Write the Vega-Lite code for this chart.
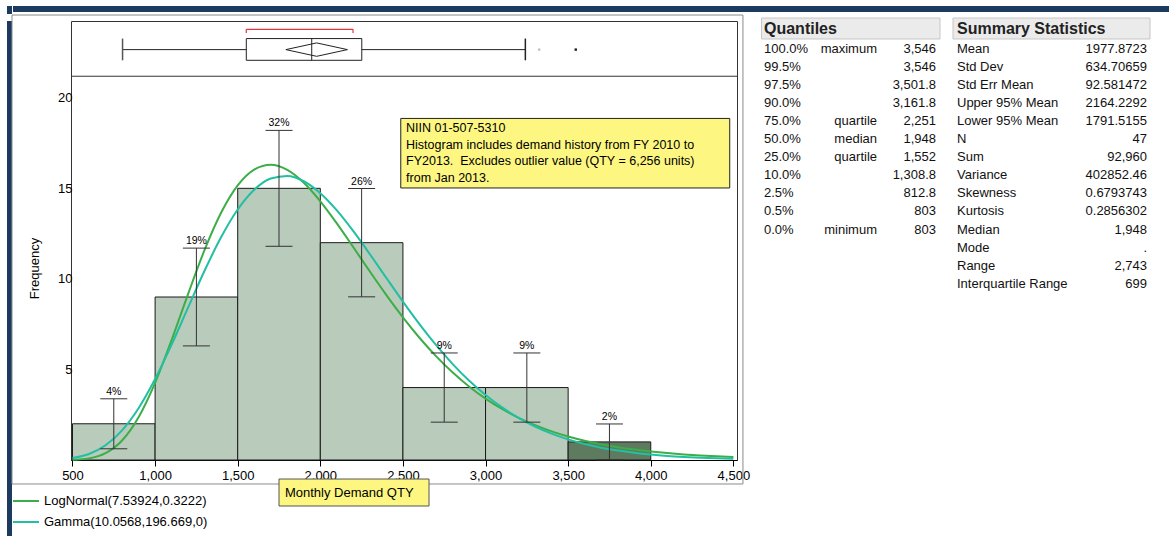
{
  "$schema": "https://vega.github.io/schema/vega-lite/v6.json",
  "background": "white",
  "padding": {"left": 6, "top": 6, "right": 0, "bottom": 0},
  "config": {
    "view": {"stroke": null},
    "font": "Liberation Sans",
    "axis": {"labelFont": "Liberation Sans", "titleFont": "Liberation Sans"},
    "legend": {"labelFont": "Liberation Sans"},
    "text": {"font": "Liberation Sans"}
  },
  "datasets": {
    "bins": [
      {"lo": 500, "hi": 1000, "mid": 750, "count": 2, "elo": 0.62, "ehi": 3.38, "pct": "4%", "rowState": "unselected"},
      {"lo": 1000, "hi": 1500, "mid": 1250, "count": 9, "elo": 6.3, "ehi": 11.7, "pct": "19%", "rowState": "unselected"},
      {"lo": 1500, "hi": 2000, "mid": 1750, "count": 15, "elo": 11.8, "ehi": 18.2, "pct": "32%", "rowState": "unselected"},
      {"lo": 2000, "hi": 2500, "mid": 2250, "count": 12, "elo": 9.01, "ehi": 14.99, "pct": "26%", "rowState": "unselected"},
      {"lo": 2500, "hi": 3000, "mid": 2750, "count": 4, "elo": 2.09, "ehi": 5.91, "pct": "9%", "rowState": "unselected"},
      {"lo": 3000, "hi": 3500, "mid": 3250, "count": 4, "elo": 2.09, "ehi": 5.91, "pct": "9%", "rowState": "unselected"},
      {"lo": 3500, "hi": 4000, "mid": 3750, "count": 1, "elo": 0.01, "ehi": 1.99, "pct": "2%", "rowState": "selected"}
    ],
    "curves": [
      {"x": 500, "LogNormal": 0.012, "Gamma": 0.107},
      {"x": 600, "LogNormal": 0.090, "Gamma": 0.334},
      {"x": 700, "LogNormal": 0.377, "Gamma": 0.812},
      {"x": 800, "LogNormal": 1.079, "Gamma": 1.637},
      {"x": 900, "LogNormal": 2.366, "Gamma": 2.861},
      {"x": 1000, "LogNormal": 4.263, "Gamma": 4.468},
      {"x": 1100, "LogNormal": 6.624, "Gamma": 6.370},
      {"x": 1200, "LogNormal": 9.177, "Gamma": 8.425},
      {"x": 1300, "LogNormal": 11.612, "Gamma": 10.462},
      {"x": 1400, "LogNormal": 13.667, "Gamma": 12.310},
      {"x": 1500, "LogNormal": 15.167, "Gamma": 13.830},
      {"x": 1600, "LogNormal": 16.039, "Gamma": 14.922},
      {"x": 1700, "LogNormal": 16.298, "Gamma": 15.541},
      {"x": 1800, "LogNormal": 16.017, "Gamma": 15.684},
      {"x": 1900, "LogNormal": 15.307, "Gamma": 15.392},
      {"x": 2000, "LogNormal": 14.285, "Gamma": 14.731},
      {"x": 2100, "LogNormal": 13.065, "Gamma": 13.782},
      {"x": 2200, "LogNormal": 11.746, "Gamma": 12.632},
      {"x": 2300, "LogNormal": 10.405, "Gamma": 11.363},
      {"x": 2400, "LogNormal": 9.102, "Gamma": 10.048},
      {"x": 2500, "LogNormal": 7.875, "Gamma": 8.746},
      {"x": 2600, "LogNormal": 6.749, "Gamma": 7.503},
      {"x": 2700, "LogNormal": 5.738, "Gamma": 6.351},
      {"x": 2800, "LogNormal": 4.843, "Gamma": 5.310},
      {"x": 2900, "LogNormal": 4.063, "Gamma": 4.388},
      {"x": 3000, "LogNormal": 3.391, "Gamma": 3.588},
      {"x": 3100, "LogNormal": 2.817, "Gamma": 2.904},
      {"x": 3200, "LogNormal": 2.331, "Gamma": 2.328},
      {"x": 3300, "LogNormal": 1.922, "Gamma": 1.850},
      {"x": 3400, "LogNormal": 1.580, "Gamma": 1.458},
      {"x": 3500, "LogNormal": 1.295, "Gamma": 1.140},
      {"x": 3600, "LogNormal": 1.060, "Gamma": 0.885},
      {"x": 3700, "LogNormal": 0.866, "Gamma": 0.682},
      {"x": 3800, "LogNormal": 0.706, "Gamma": 0.522},
      {"x": 3900, "LogNormal": 0.575, "Gamma": 0.398},
      {"x": 4000, "LogNormal": 0.468, "Gamma": 0.301},
      {"x": 4100, "LogNormal": 0.380, "Gamma": 0.226},
      {"x": 4200, "LogNormal": 0.309, "Gamma": 0.169},
      {"x": 4300, "LogNormal": 0.251, "Gamma": 0.126},
      {"x": 4400, "LogNormal": 0.204, "Gamma": 0.093},
      {"x": 4500, "LogNormal": 0.165, "Gamma": 0.069}
    ],
    "box": [
      {"min": 803, "q1": 1552, "median": 1948, "q3": 2251, "whiskerHi": 3241, "mean": 1977.87, "lcl": 1791.52, "ucl": 2164.23, "shLo": 1552, "shHi": 2198}
    ],
    "outliers": [
      {"v": 3325, "state": "hidden"},
      {"v": 3546, "state": "shown"}
    ],
    "quant": [
      {"i": 0, "p": "100.0%", "name": "maximum", "v": "3,546"},
      {"i": 1, "p": "99.5%", "name": "", "v": "3,546"},
      {"i": 2, "p": "97.5%", "name": "", "v": "3,501.8"},
      {"i": 3, "p": "90.0%", "name": "", "v": "3,161.8"},
      {"i": 4, "p": "75.0%", "name": "quartile", "v": "2,251"},
      {"i": 5, "p": "50.0%", "name": "median", "v": "1,948"},
      {"i": 6, "p": "25.0%", "name": "quartile", "v": "1,552"},
      {"i": 7, "p": "10.0%", "name": "", "v": "1,308.8"},
      {"i": 8, "p": "2.5%", "name": "", "v": "812.8"},
      {"i": 9, "p": "0.5%", "name": "", "v": "803"},
      {"i": 10, "p": "0.0%", "name": "minimum", "v": "803"}
    ],
    "stats": [
      {"i": 0, "k": "Mean", "v": "1977.8723"},
      {"i": 1, "k": "Std Dev", "v": "634.70659"},
      {"i": 2, "k": "Std Err Mean", "v": "92.581472"},
      {"i": 3, "k": "Upper 95% Mean", "v": "2164.2292"},
      {"i": 4, "k": "Lower 95% Mean", "v": "1791.5155"},
      {"i": 5, "k": "N", "v": "47"},
      {"i": 6, "k": "Sum", "v": "92,960"},
      {"i": 7, "k": "Variance", "v": "402852.46"},
      {"i": 8, "k": "Skewness", "v": "0.6793743"},
      {"i": 9, "k": "Kurtosis", "v": "0.2856302"},
      {"i": 10, "k": "Median", "v": "1,948"},
      {"i": 11, "k": "Mode", "v": "."},
      {"i": 12, "k": "Range", "v": "2,743"},
      {"i": 13, "k": "Interquartile Range", "v": "699"}
    ]
  },
  "spacing": 0,
  "resolve": {"scale": {"stroke": "independent", "fill": "independent"}, "legend": {"stroke": "independent", "fill": "independent"}},
  "vconcat": [
    {
      "spacing": 0,
      "resolve": {"scale": {"stroke": "independent", "fill": "independent"}, "legend": {"stroke": "independent", "fill": "independent"}},
      "hconcat": [
        {"width": 5, "height": 8, "view": {"fill": "#1d3a60", "stroke": null}, "data": {"values": [{}]}, "mark": {"type": "point", "opacity": 0}, "encoding": {}},
        {"width": 1158, "height": 6, "view": {"fill": "#1d3a60", "stroke": null}, "data": {"values": [{}]}, "mark": {"type": "point", "opacity": 0}, "encoding": {}}
      ]
    },
    {
      "spacing": -2,
      "resolve": {"scale": {"stroke": "independent", "fill": "independent"}, "legend": {"stroke": "independent", "fill": "independent"}},
      "hconcat": [
        {"width": 5, "height": 520, "view": {"fill": "#1d3a60", "stroke": null}, "data": {"values": [{}]}, "mark": {"type": "point", "opacity": 0}, "encoding": {}},
        {
          "spacing": 9,
          "resolve": {"scale": {"stroke": "independent", "fill": "independent"}, "legend": {"stroke": "independent", "fill": "independent"}},
          "hconcat": [
            {
              "width": 666,
              "height": 439,
              "view": {"stroke": "#333333", "strokeWidth": 1},
              "layer": [
                {
                  "data": {"name": "bins"},
                  "mark": {"type": "rect", "stroke": "#1a1a1a", "strokeWidth": 1},
                  "encoding": {
                    "x": {"field": "lo", "type": "quantitative", "scale": {"domain": [491, 4522], "nice": false, "zero": false},
                      "axis": {"values": [500, 1000, 1500, 2000, 2500, 3000, 3500, 4000, 4500], "labelExpr": "format(datum.value, ',')", "title": null, "grid": false, "labelFontSize": 13, "labelColor": "#000000", "tickColor": "#000000", "tickSize": 6, "domainColor": "#000000", "labelPadding": 3, "labelFlush": false, "labelOverlap": false}},
                    "x2": {"field": "hi"},
                    "y": {"field": "count", "type": "quantitative", "scale": {"domain": [0, 24.24], "nice": false, "zero": false},
                      "axis": {"values": [5, 10, 15, 20], "title": "Frequency", "grid": false, "ticks": false, "domain": false, "labelFontSize": 13, "labelColor": "#000000", "labelPadding": -1, "titleFontSize": 13, "titleFontWeight": "normal", "titleColor": "#000000", "titlePadding": 16, "titleY": 247}},
                    "y2": {"datum": 0},
                    "fill": {"field": "rowState", "type": "nominal", "scale": {"domain": ["unselected", "selected"], "range": ["#b9cbbb", "#5e7b60"]}, "legend": null}
                  }
                },
                {
                  "data": {"name": "curves"},
                  "transform": [{"fold": ["LogNormal", "Gamma"], "as": ["dist", "dens"]}],
                  "mark": {"type": "line", "strokeWidth": 2, "interpolate": "monotone"},
                  "encoding": {
                    "x": {"field": "x", "type": "quantitative"},
                    "y": {"field": "dens", "type": "quantitative"},
                    "stroke": {"field": "dist", "type": "nominal", "scale": {"domain": ["LogNormal", "Gamma"], "range": ["#3cae48", "#22bfa2"]},
                      "legend": {"orient": "none", "legendX": -59, "legendY": 466, "title": null, "symbolType": "stroke", "symbolSize": 676, "symbolStrokeWidth": 2, "labelFontSize": 13, "labelColor": "#000000", "labelLimit": 0, "rowPadding": -8, "labelOffset": 4, "padding": 0, "direction": "vertical",
                        "labelExpr": "datum.label == 'LogNormal' ? 'LogNormal(7.53924,0.3222)' : 'Gamma(10.0568,196.669,0)'"}}
                  }
                },
                {
                  "data": {"name": "bins"},
                  "mark": {"type": "rule", "color": "#333333"},
                  "encoding": {"x": {"field": "mid", "type": "quantitative"}, "y": {"field": "elo", "type": "quantitative"}, "y2": {"field": "ehi"}}
                },
                {
                  "data": {"name": "bins"},
                  "mark": {"type": "tick", "orient": "horizontal", "size": 27, "thickness": 1, "color": "#333333", "opacity": 1},
                  "encoding": {"x": {"field": "mid", "type": "quantitative"}, "y": {"field": "elo", "type": "quantitative"}}
                },
                {
                  "data": {"name": "bins"},
                  "mark": {"type": "tick", "orient": "horizontal", "size": 27, "thickness": 1, "color": "#333333", "opacity": 1},
                  "encoding": {"x": {"field": "mid", "type": "quantitative"}, "y": {"field": "ehi", "type": "quantitative"}}
                },
                {
                  "data": {"name": "bins"},
                  "mark": {"type": "text", "baseline": "bottom", "dy": -2, "fontSize": 10.5, "color": "#000000"},
                  "encoding": {"x": {"field": "mid", "type": "quantitative"}, "y": {"field": "ehi", "type": "quantitative"}, "text": {"field": "pct"}}
                },
                {
                  "data": {"values": [{}]},
                  "mark": {"type": "rect", "fill": "#fdf782", "stroke": "#222222", "strokeWidth": 1},
                  "encoding": {"x": {"datum": 2487}, "x2": {"datum": 4478}, "y": {"datum": 18.86}, "y2": {"datum": 15.02}}
                },
                {
                  "data": {"values": [{}]},
                  "mark": {"type": "text", "align": "left", "baseline": "top", "fontSize": 12.5, "lineHeight": 16.6, "color": "#000000"},
                  "encoding": {"x": {"datum": 2519}, "y": {"datum": 18.66},
                    "text": {"value": ["NIIN 01-507-5310", "Histogram includes demand history from FY 2010 to", "FY2013.\u00a0 Excludes outlier value (QTY = 6,256 units)", "from Jan 2013."]}}
                },
                {
                  "data": {"values": [{}]},
                  "mark": {"type": "rule", "color": "#333333", "strokeWidth": 1},
                  "encoding": {"y": {"datum": 21.19}}
                },
                {
                  "data": {"name": "box"},
                  "mark": {"type": "rule", "color": "#222222"},
                  "encoding": {"x": {"field": "min", "type": "quantitative"}, "x2": {"field": "whiskerHi"}, "y": {"datum": 22.66}}
                },
                {
                  "data": {"name": "box"},
                  "mark": {"type": "rule", "color": "#555555", "strokeWidth": 1.5},
                  "encoding": {"x": {"field": "min", "type": "quantitative"}, "y": {"datum": 22.07}, "y2": {"datum": 23.27}}
                },
                {
                  "data": {"name": "box"},
                  "mark": {"type": "rule", "color": "#222222", "strokeWidth": 1.5},
                  "encoding": {"x": {"field": "whiskerHi", "type": "quantitative"}, "y": {"datum": 22.07}, "y2": {"datum": 23.27}}
                },
                {
                  "data": {"name": "box"},
                  "mark": {"type": "rect", "fill": "white", "stroke": "#222222", "strokeWidth": 1},
                  "encoding": {"x": {"field": "q1", "type": "quantitative"}, "x2": {"field": "q3"}, "y": {"datum": 22.07}, "y2": {"datum": 23.27}}
                },
                {
                  "data": {"name": "box"},
                  "mark": {"type": "rule", "color": "#222222"},
                  "encoding": {"x": {"field": "median", "type": "quantitative"}, "y": {"datum": 22.07}, "y2": {"datum": 23.27}}
                },
                {
                  "data": {"name": "box"},
                  "mark": {"type": "rule", "color": "#222222"},
                  "encoding": {"x": {"field": "lcl", "type": "quantitative"}, "x2": {"field": "mean"}, "y": {"datum": 22.66}, "y2": {"datum": 23.03}}
                },
                {
                  "data": {"name": "box"},
                  "mark": {"type": "rule", "color": "#222222"},
                  "encoding": {"x": {"field": "mean", "type": "quantitative"}, "x2": {"field": "ucl"}, "y": {"datum": 23.03}, "y2": {"datum": 22.66}}
                },
                {
                  "data": {"name": "box"},
                  "mark": {"type": "rule", "color": "#222222"},
                  "encoding": {"x": {"field": "ucl", "type": "quantitative"}, "x2": {"field": "mean"}, "y": {"datum": 22.66}, "y2": {"datum": 22.29}}
                },
                {
                  "data": {"name": "box"},
                  "mark": {"type": "rule", "color": "#222222"},
                  "encoding": {"x": {"field": "mean", "type": "quantitative"}, "x2": {"field": "lcl"}, "y": {"datum": 22.29}, "y2": {"datum": 22.66}}
                },
                {
                  "data": {"name": "box"},
                  "mark": {"type": "rule", "color": "#e8323c", "strokeWidth": 1.2},
                  "encoding": {"x": {"field": "shLo", "type": "quantitative"}, "x2": {"field": "shHi"}, "y": {"datum": 23.78}}
                },
                {
                  "data": {"name": "box"},
                  "mark": {"type": "rule", "color": "#e8323c", "strokeWidth": 1.2},
                  "encoding": {"x": {"field": "shLo", "type": "quantitative"}, "y": {"datum": 23.58}, "y2": {"datum": 23.78}}
                },
                {
                  "data": {"name": "box"},
                  "mark": {"type": "rule", "color": "#e8323c", "strokeWidth": 1.2},
                  "encoding": {"x": {"field": "shHi", "type": "quantitative"}, "y": {"datum": 23.58}, "y2": {"datum": 23.78}}
                },
                {
                  "data": {"name": "outliers"},
                  "transform": [{"filter": "datum.state == 'shown'"}],
                  "mark": {"type": "square", "size": 6, "color": "#222222", "filled": true, "opacity": 1},
                  "encoding": {"x": {"field": "v", "type": "quantitative"}, "y": {"datum": 22.66}}
                },
                {
                  "data": {"name": "outliers"},
                  "transform": [{"filter": "datum.state == 'hidden'"}],
                  "mark": {"type": "square", "size": 5, "color": "#bbbbbb", "filled": true, "opacity": 1},
                  "encoding": {"x": {"field": "v", "type": "quantitative"}, "y": {"datum": 22.66}}
                },
                {
                  "data": {"values": [{}]},
                  "mark": {"type": "rect", "fill": "white", "fillOpacity": 0, "stroke": "#8a8a8a", "strokeWidth": 1},
                  "encoding": {"x": {"datum": 133.9}, "x2": {"datum": 4558}, "y": {"datum": 24.57}, "y2": {"datum": -1.325}}
                },
                {
                  "data": {"values": [{}]},
                  "mark": {"type": "rect", "fill": "#fdf782", "stroke": "#555555", "strokeWidth": 1},
                  "encoding": {"x": {"datum": 1750}, "x2": {"datum": 2658}, "y": {"datum": -1.05}, "y2": {"datum": -2.54}}
                },
                {
                  "data": {"values": [{}]},
                  "mark": {"type": "text", "align": "left", "baseline": "middle", "fontSize": 13, "color": "#000000"},
                  "encoding": {"x": {"datum": 1786}, "y": {"datum": -1.8}, "text": {"value": "Monthly Demand QTY"}}
                }
              ]
            },
            {
              "width": 392,
              "height": 290,
              "layer": [
                {
                  "data": {"values": [{}]},
                  "mark": {"type": "rect", "fill": "#ebebeb", "stroke": "#c6c6c6", "strokeWidth": 1},
                  "encoding": {
                    "x": {"datum": 0.5, "type": "quantitative", "scale": {"domain": [0, 392], "nice": false, "zero": false}, "axis": null},
                    "x2": {"datum": 179},
                    "y": {"datum": -1.717, "type": "quantitative", "scale": {"domain": [-1.551, 14.513], "nice": false, "zero": false, "reverse": true}, "axis": null},
                    "y2": {"datum": -0.554}
                  }
                },
                {
                  "data": {"values": [{}]},
                  "mark": {"type": "rect", "fill": "#ebebeb", "stroke": "#c6c6c6", "strokeWidth": 1},
                  "encoding": {"x": {"datum": 192}, "x2": {"datum": 389}, "y": {"datum": -1.717}, "y2": {"datum": -0.554}}
                },
                {
                  "data": {"values": [{}]},
                  "mark": {"type": "text", "align": "left", "baseline": "middle", "fontSize": 16, "fontWeight": "bold", "color": "#222222"},
                  "encoding": {"x": {"datum": 3}, "y": {"datum": -1.13}, "text": {"value": "Quantiles"}}
                },
                {
                  "data": {"values": [{}]},
                  "mark": {"type": "text", "align": "left", "baseline": "middle", "fontSize": 16, "fontWeight": "bold", "color": "#222222"},
                  "encoding": {"x": {"datum": 196}, "y": {"datum": -1.13}, "text": {"value": "Summary Statistics"}}
                },
                {
                  "data": {"name": "quant"},
                  "mark": {"type": "text", "align": "left", "baseline": "middle", "fontSize": 13, "color": "#111111"},
                  "encoding": {"x": {"datum": 3}, "y": {"field": "i", "type": "quantitative"}, "text": {"field": "p"}}
                },
                {
                  "data": {"name": "quant"},
                  "mark": {"type": "text", "align": "right", "baseline": "middle", "fontSize": 13, "color": "#111111"},
                  "encoding": {"x": {"datum": 116}, "y": {"field": "i", "type": "quantitative"}, "text": {"field": "name"}}
                },
                {
                  "data": {"name": "quant"},
                  "mark": {"type": "text", "align": "right", "baseline": "middle", "fontSize": 13, "color": "#111111"},
                  "encoding": {"x": {"datum": 175}, "y": {"field": "i", "type": "quantitative"}, "text": {"field": "v"}}
                },
                {
                  "data": {"name": "stats"},
                  "mark": {"type": "text", "align": "left", "baseline": "middle", "fontSize": 13, "color": "#111111"},
                  "encoding": {"x": {"datum": 196}, "y": {"field": "i", "type": "quantitative"}, "text": {"field": "k"}}
                },
                {
                  "data": {"name": "stats"},
                  "mark": {"type": "text", "align": "right", "baseline": "middle", "fontSize": 13, "color": "#111111"},
                  "encoding": {"x": {"datum": 386}, "y": {"field": "i", "type": "quantitative"}, "text": {"field": "v"}}
                }
              ]
            }
          ]
        }
      ]
    },
    {"width": 1163, "height": 2, "view": {"fill": "#1d3a60", "stroke": null}, "data": {"values": [{}]}, "mark": {"type": "point", "opacity": 0}, "encoding": {}}
  ]
}
